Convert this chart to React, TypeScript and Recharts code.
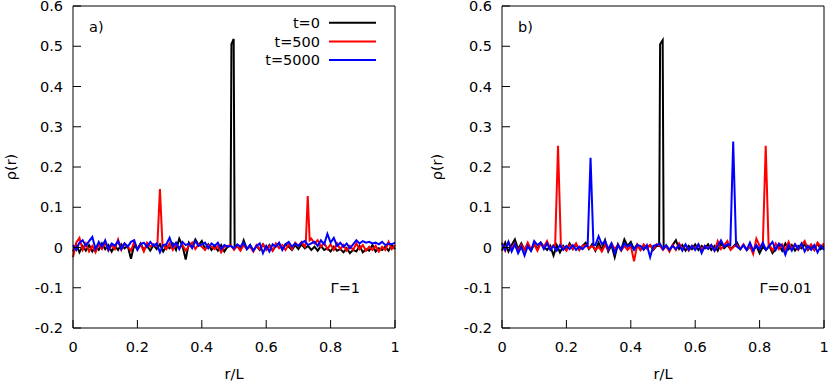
import React from 'react';
import { LineChart, Line, XAxis, YAxis, Legend } from 'recharts';

// r/L sampling grid (step 0.01)
const rGrid = Array.from({ length: 101 }, (_, i) => i / 100);
const xTicks = [0, 0.2, 0.4, 0.6, 0.8, 1];
const yTicks = [-0.2, -0.1, 0, 0.1, 0.2, 0.3, 0.4, 0.5, 0.6];

// panel a) Gamma = 1 : background values on rGrid
const aT0 = [
  -0.01, 0.008, -0.012, 0.004, -0.008, 0.006, -0.01, 0.002, -0.006, 0.01,
  -0.004, 0.006, -0.01, 0.004, -0.006, 0.008, -0.002, 0.004, -0.028, 0.006,
  -0.004, 0.01, -0.006, 0.004, -0.008, 0.006, -0.004, 0.008, -0.01, 0.004,
  -0.002, 0.01, -0.006, 0.022, 0.004, -0.03, 0.012, 0.002, 0.02, 0.006,
  0.016, -0.004, 0.008, -0.006, 0.004, -0.008, 0.006, -0.01, 0.002, 0, 0,
  0.004, -0.006, 0.018, -0.004, 0.006, -0.008, 0.004, -0.006, 0.008,
  -0.004, 0.006, -0.008, 0.004, 0.01, -0.004, 0.008, 0.002, -0.006, 0.006,
  -0.004, 0.008, -0.002, 0.004, -0.006, 0.002, -0.008, 0.004, -0.006, -0.002,
  -0.01, 0.002, -0.008, -0.004, -0.012, -0.002, -0.014, -0.006, -0.01, 0.004,
  -0.012, -0.004, -0.008, 0.006, -0.01, -0.002, -0.006, 0.002, -0.008, 0.006, -0.004,
];
const aT500 = [
  -0.024, 0.012, 0.024, -0.006, 0.01, -0.01, 0.004, -0.012, 0.008, -0.004,
  0.012, -0.008, 0.006, -0.004, 0.02, -0.006, 0.01, 0.002, -0.008, 0.014,
  -0.004, 0.008, -0.01, 0.012, 0.002, 0.008, 0.004, 0, 0.006, -0.004,
  0.01, -0.006, 0.008, -0.002, 0.006, -0.008, 0.004, 0.012, -0.004, 0.008,
  0.002, -0.006, 0.006, 0.002, -0.004, 0.004, -0.012, 0.002, 0.004, 0.006, -0.006,
  0.004, -0.008, 0.006, -0.004, 0.002, -0.01, 0.006, -0.004, 0.008,
  -0.006, 0.004, -0.008, 0.01, -0.002, 0.006, -0.006, 0.008, -0.004, 0.012,
  0.004, 0.014, 0.002, 0, 0.022, 0.01, 0.018, 0.002, 0.012, -0.004,
  0.008, -0.006, 0.01, -0.004, 0.006, -0.008, 0.004, -0.006, 0.01, -0.004,
  0.006, -0.008, 0.002, -0.006, 0.004, -0.01, 0.002, -0.006, 0.014, -0.004, 0.006,
];
const aT5000 = [
  0.006, -0.006, 0.012, 0.018, 0.004, 0.016, 0.026, -0.004, 0.014, 0.002,
  0.018, -0.006, 0.01, 0.004, 0.016, -0.004, 0.01, 0.002, 0.014, 0.018,
  -0.006, 0.008, 0.012, 0.002, 0.014, 0.004, 0.01, -0.012, 0.006, 0.008,
  0.024, 0.002, 0.012, -0.004, 0.014, 0.006, 0.01, -0.002, 0.016, 0.004,
  0.008, 0.012, -0.002, 0.01, 0.004, 0.012, -0.004, 0.006, 0.002, 0.004, -0.002,
  0.008, 0.002, 0.012, -0.004, 0.006, -0.008, 0.004, 0.01, -0.014,
  0.004, -0.01, 0.008, 0.002, 0.012, -0.006, 0.008, 0.014, 0.002, 0.01,
  0.004, 0.012, 0.016, 0.006, 0.01, 0.014, 0.004, 0.018, 0.008, 0.034,
  0.012, 0.024, 0.004, 0.012, 0.002, 0.01, -0.002, 0.008, 0.018, 0.01,
  0.016, 0.012, 0.014, 0.01, 0.012, 0.008, 0.014, 0.006, 0.01, 0.008, 0.012,
];
// peaks: r positions and heights
const aT0PeakR = [[0.489, 0.492, 0.499, 0.502]];
const aT0PeakRho = [[0.004, 0.505, 0.518, 0.002]];
const aT500PeakR = [[0.262, 0.27, 0.278], [0.723, 0.729, 0.735]];
const aT500PeakRho = [[0.006, 0.145, 0.004], [0.012, 0.128, 0.018]];

// panel b) Gamma = 0.01
const bT0 = [
  -0.008, 0.012, -0.01, 0.006, 0.02, -0.004, 0.01, -0.006, 0.004, -0.008,
  0.008, -0.004, 0.012, 0.002, -0.006, 0.004, -0.02, 0.006, -0.012, 0.004,
  -0.006, 0.01, -0.004, 0.008, -0.006, 0.004, 0.012, -0.004, 0.008, -0.008,
  0.012, -0.006, 0.018, -0.01, 0.006, -0.024, 0.008, -0.006, 0.02, 0.004,
  0.014, -0.004, 0.008, -0.006, 0.004, -0.002, 0.006, -0.006, 0.004, 0, 0,
  0.002, -0.006, 0.006, 0.018, -0.004, 0.006, -0.008, 0.004, -0.004,
  0.008, -0.006, 0.004, -0.002, 0.008, -0.006, 0.004, -0.008, 0.01, -0.002,
  0.006, -0.004, 0.004, 0.012, -0.004, 0.006, -0.006, 0.002, -0.008, 0.004,
  -0.014, 0.002, -0.006, 0.004, -0.014, -0.004, 0.006, -0.008, 0.01, -0.004,
  0.006, -0.008, 0.004, -0.002, 0.008, -0.006, 0.004, -0.006, 0.01, -0.004, 0.004,
];
const bT500 = [
  0.012, -0.008, 0.014, -0.004, 0.01, -0.01, 0.006, -0.006, 0.012, -0.004,
  0.008, -0.008, 0.01, 0.002, 0.016, -0.004, 0.006, 0, 0, 0.002,
  -0.008, 0.006, -0.004, 0.01, -0.006, 0.004, 0.006, -0.002, 0.004, -0.006,
  0.002, -0.01, 0.006, -0.006, 0.01, -0.004, 0.006, -0.008, 0.004, -0.006,
  0.004, -0.034, 0.006, -0.006, 0.008, -0.002, 0.006, -0.004, 0.008, 0.004, -0.006,
  0.004, -0.01, 0.006, -0.006, 0.01, -0.004, 0.006, -0.008, 0.004,
  -0.004, 0.008, -0.006, 0.004, -0.002, 0.006, -0.008, 0.016, -0.004, 0.006,
  0.016, -0.006, 0.002, 0.006, -0.004, 0.008, -0.006, 0.004, -0.016, 0.022,
  0.004, 0, 0, 0.008, -0.008, 0.01, -0.004, 0.008, -0.006, 0.014,
  -0.004, 0.008, -0.006, 0.006, 0.016, -0.004, 0.008, -0.006, 0.012, 0.002, 0.01,
];
const bT5000 = [
  0.01, -0.006, 0.014, -0.01, 0.008, -0.014, 0.002, -0.02, 0.004, -0.008,
  0.016, 0.006, 0.012, -0.004, 0.01, -0.006, 0.004, -0.008, 0.006, -0.006,
  0.004, -0.004, 0.006, -0.006, 0.002, -0.004, 0.004, 0, 0, 0.006,
  0.028, 0.008, 0.016, -0.004, 0.01, -0.014, 0.006, -0.006, 0.01, 0.002,
  0.008, -0.006, 0.006, 0.004, -0.006, 0.006, -0.024, 0.004, 0.006, 0.01, -0.004,
  0.006, -0.006, 0.004, -0.004, 0.006, -0.008, 0.008, -0.006, 0.004,
  -0.006, 0.008, -0.014, 0.004, -0.004, 0.006, -0.008, 0.004, 0.018, 0.002,
  0.008, 0, 0, 0.002, -0.004, 0.006, -0.006, 0.012, -0.008, 0.006,
  -0.004, 0.012, -0.006, 0.004, 0.014, -0.006, 0.01, 0.004, -0.018, 0.006,
  -0.008, 0.008, -0.004, 0.01, -0.01, 0.004, -0.006, 0.006, -0.012, 0.004, -0.006,
];
const bT0PeakR = [[0.488, 0.491, 0.499, 0.502]];
const bT0PeakRho = [[0.004, 0.505, 0.515, 0.002]];
const bT500PeakR = [[0.165, 0.174, 0.183], [0.81, 0.819, 0.828]];
const bT500PeakRho = [[0.004, 0.253, 0.002], [0.006, 0.253, 0.004]];
const bT5000PeakR = [[0.266, 0.275, 0.284], [0.709, 0.718, 0.727]];
const bT5000PeakRho = [[0.004, 0.223, 0.006], [0.006, 0.263, 0.004]];

const FONT = '"DejaVu Sans", sans-serif';
const FS = 14.5;

// background on the grid, grid points inside a peak are replaced by the peak points
function buildSeries(noise: number[], peakR: number[][] = [], peakRho: number[][] = []) {
  const pts = rGrid
    .map((r, i) => ({ r, rho: noise[i] }))
    .filter((p) => !peakR.some((pr) => p.r >= pr[0] && p.r <= pr[pr.length - 1]));
  peakR.forEach((pr, k) => pr.forEach((r, j) => pts.push({ r, rho: peakRho[k][j] })));
  return pts.sort((a, b) => a.r - b.r);
}

const fmt = (v: number) => String(Number(v.toFixed(1)));

const BottomTick = (props: any) => {
  const { x, y, payload } = props;
  return (
    <g>
      <line x1={x} y1={y} x2={x} y2={y - 8} stroke="#000" />
      <text x={x} y={y + 24} textAnchor="middle" fontFamily={FONT} fontSize={FS} fill="#000">
        {fmt(payload.value)}
      </text>
    </g>
  );
};
const TopTick = (props: any) => {
  const { x, y } = props;
  return <line x1={x} y1={y} x2={x} y2={y + 8} stroke="#000" />;
};
const LeftTick = (props: any) => {
  const { x, y, payload } = props;
  return (
    <g>
      <line x1={x} y1={y} x2={x + 8} y2={y} stroke="#000" />
      <text x={x - 10} y={y} dy="0.36em" textAnchor="end" fontFamily={FONT} fontSize={FS} fill="#000">
        {fmt(payload.value)}
      </text>
    </g>
  );
};
const RightTick = (props: any) => {
  const { x, y } = props;
  return <line x1={x} y1={y} x2={x - 8} y2={y} stroke="#000" />;
};

const LegendBox = (props: any) => {
  const { payload } = props;
  return (
    <svg width={414} height={80} style={{ display: 'block' }}>
      {(payload || []).map((p: any, i: number) => (
        <g key={p.value}>
          <text x={320} y={22.7 + i * 18.7} dy="0.36em" textAnchor="end" fontFamily={FONT} fontSize={FS} fill="#000">
            {p.value}
          </text>
          <line x1={329} x2={376} y1={22.7 + i * 18.7} y2={22.7 + i * 18.7} stroke={p.color} strokeWidth={2} />
        </g>
      ))}
    </svg>
  );
};

type PanelProps = {
  left: number;
  width: number;
  plotLeft: number;
  plotRight: number;
  yLabelX: number;
  series: { name: string; color: string; data: { r: number; rho: number }[] }[];
  tag: string;
  gamma: string;
  gammaX: number;
  legend?: boolean;
};

const H = 381;
const PLOT_TOP = 6;
const PLOT_BOTTOM = 328;

const Panel = ({ left, width, plotLeft, plotRight, yLabelX, series, tag, gamma, gammaX, legend }: PanelProps) => {
  // axes take 1px each, so margins are 1px short of the plot box
  const margin = { top: PLOT_TOP - 1, bottom: H - PLOT_BOTTOM - 1, left: plotLeft - 1, right: width - plotRight - 1 };
  const plotCx = (plotLeft + plotRight) / 2;
  const axisCommon = {
    tickSize: 0,
    tickMargin: 0,
    tickLine: false,
    axisLine: { stroke: '#000' },
    interval: 0 as const,
  };
  return (
    <div style={{ position: 'absolute', left, top: 0, width, height: H }}>
      <LineChart width={width} height={H} margin={margin}>
        <XAxis dataKey="r" type="number" domain={[0, 1]} ticks={xTicks} height={1} tick={<BottomTick />} {...axisCommon} />
        <XAxis
          xAxisId="top"
          orientation="top"
          dataKey="r"
          type="number"
          domain={[0, 1]}
          ticks={xTicks}
          height={1}
          tick={<TopTick />}
          {...axisCommon}
        />
        <YAxis type="number" domain={[-0.2, 0.6]} ticks={yTicks} width={1} tick={<LeftTick />} {...axisCommon} />
        <YAxis
          yAxisId="right"
          orientation="right"
          type="number"
          domain={[-0.2, 0.6]}
          ticks={yTicks}
          width={1}
          tick={<RightTick />}
          {...axisCommon}
        />
        {series.map((s) => (
          <Line
            key={s.name}
            data={s.data}
            dataKey="rho"
            name={s.name}
            type="linear"
            stroke={s.color}
            strokeWidth={2}
            dot={false}
            activeDot={false}
            isAnimationActive={false}
          />
        ))}
        {legend && (
          <Legend
            layout="horizontal"
            align="center"
            verticalAlign="middle"
            content={<LegendBox />}
            wrapperStyle={{ position: 'absolute', left: 0, top: 0, width: 414, height: 80 }}
          />
        )}
      </LineChart>
      <svg
        width={width}
        height={H}
        style={{ position: 'absolute', left: 0, top: 0, pointerEvents: 'none' }}
        fontFamily={FONT}
        fontSize={FS}
      >
        <text x={plotLeft + 16} y={32}>{tag}</text>
        <text x={gammaX} y={292.5} textAnchor="end">{gamma}</text>
        <text x={plotCx} y={379} textAnchor="middle">r/L</text>
        <text x={yLabelX} y={167} textAnchor="middle" dy="0.36em" transform={`rotate(-90 ${yLabelX} 167)`}>
          ρ(r)
        </text>
      </svg>
    </div>
  );
};

export default function App() {
  const seriesA = [
    { name: 't=0', color: '#000000', data: buildSeries(aT0, aT0PeakR, aT0PeakRho) },
    { name: 't=500', color: '#ff0000', data: buildSeries(aT500, aT500PeakR, aT500PeakRho) },
    { name: 't=5000', color: '#0000ff', data: buildSeries(aT5000) },
  ];
  const seriesB = [
    { name: 't=0', color: '#000000', data: buildSeries(bT0, bT0PeakR, bT0PeakRho) },
    { name: 't=500', color: '#ff0000', data: buildSeries(bT500, bT500PeakR, bT500PeakRho) },
    { name: 't=5000', color: '#0000ff', data: buildSeries(bT5000, bT5000PeakR, bT5000PeakRho) },
  ];
  return (
    <div style={{ position: 'absolute', left: 0, top: 0, width: 829, height: H, background: '#fff', overflow: 'hidden' }}>
      <Panel
        left={0}
        width={414}
        plotLeft={73}
        plotRight={395}
        yLabelX={10.5}
        series={seriesA}
        tag="a)"
        gamma="Γ=1"
        gammaX={360}
        legend
      />
      <Panel
        left={414}
        width={415}
        plotLeft={88}
        plotRight={410}
        yLabelX={22.5}
        series={seriesB}
        tag="b)"
        gamma="Γ=0.01"
        gammaX={398}
      />
    </div>
  );
}
